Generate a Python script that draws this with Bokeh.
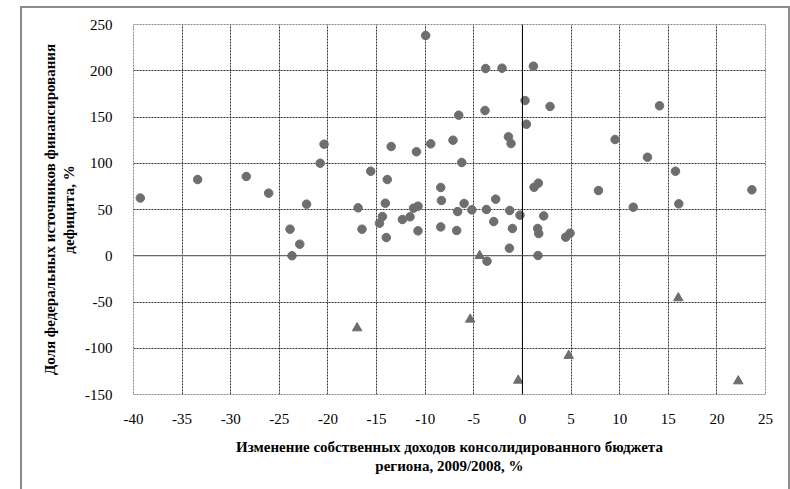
from bokeh.plotting import figure
from bokeh.models import FixedTicker, Span
from bokeh.embed import file_html
from bokeh.resources import INLINE

# circles: regions
cx = [-39.3, -33.4, -28.4, -26.1, -22.2, -20.8, -20.4, -23.9, -22.9, -23.7,
      -16.9, -16.5, -15.6, -14.7, -14.4, -14.1, -13.9, -14.0, -13.5, -12.35,
      -11.56, -11.2, -10.74, -10.74, -10.9, -9.43, -7.14, -6.24, -8.4, -8.33,
      -8.4, -6.0, -6.66, -6.76, -5.2, -3.7, -2.75, -2.95, -1.3, -1.03,
      -1.34, -0.25, -1.17, -1.44, -3.64, 1.2, 1.64, 1.57, 1.68, 1.6,
      2.19, 4.45, 4.9, 7.82, 11.4, 12.86, 15.74, 16.08, 23.6, 9.53,
      1.13, 2.84, 14.1, -9.95, -3.78, -2.1, 0.27, -3.85, -6.55, 0.41]
cy = [62.4, 82.4, 85.7, 67.7, 55.8, 100.0, 120.6, 28.7, 12.5, 0.0,
      51.8, 28.7, 91.4, 35.2, 42.4, 56.8, 82.4, 19.7, 118.1, 39.2,
      42.1, 51.4, 53.6, 26.9, 112.4, 121.0, 124.9, 100.8, 73.8, 59.7,
      31.2, 56.5, 47.8, 27.3, 49.6, 50.0, 61.2, 37.0, 48.9, 29.5,
      8.2, 43.9, 121.3, 128.6, -5.9, 74.0, 78.5, 29.5, 24.0, 0.3,
      43.1, 20.1, 24.4, 70.5, 52.5, 106.5, 91.4, 56.1, 71.3, 125.7,
      205.0, 161.4, 162.1, 238.1, 202.4, 202.8, 167.8, 157.0, 152.0, 142.2]

# triangles
tx = [-4.4, -17.0, -5.37, -0.43, 4.76, 16.03, 22.2]
ty = [0.0, -78.2, -68.8, -134.8, -108.0, -45.7, -135.5]

x_ticks = [-40, -35, -30, -25, -20, -15, -10, -5, 0, 5, 10, 15, 20, 25]
y_ticks = [-150, -100, -50, 0, 50, 100, 150, 200, 250]

x_title = "Изменение собственных доходов консолидированного бюджета\nрегиона, 2009/2008, %"
y_title = "Доля федеральных источников финансирования\nдефицита, %"

SERIF = "Liberation Serif"
MARK = "#6e6e6e"
BORDER = "#8c8c8c"

p = figure(width=790, height=489, output_backend="svg", toolbar_location=None,
           x_range=(-40, 25), y_range=(-150, 250),
           min_border_left=133, min_border_right=25, min_border_top=24,
           min_border_bottom=95)

p.background_fill_color = "white"
p.border_fill_color = None
p.styles = {
    "background": (
        f"linear-gradient({BORDER},{BORDER}) 20px 6px / 2px 490px no-repeat, "
        f"linear-gradient({BORDER},{BORDER}) 20px 6px / 770px 2px no-repeat, "
        f"linear-gradient({BORDER},{BORDER}) 788px 6px / 2px 490px no-repeat, "
        "white"
    )
}
p.outline_line_color = "#888888"
p.outline_line_dash = "2 1"
p.outline_line_width = 1

for ax in (p.xaxis[0], p.yaxis[0]):
    ax.axis_line_color = None
    ax.major_tick_line_color = None
    ax.minor_tick_line_color = None
    ax.major_label_text_font = SERIF
    ax.major_label_text_font_size = "15px"
    ax.major_label_text_color = "black"
    ax.axis_label_text_font = SERIF
    ax.axis_label_text_font_size = "15px"
    ax.axis_label_text_font_style = "bold"
    ax.axis_label_text_color = "black"

p.xaxis.ticker = FixedTicker(ticks=x_ticks)
p.yaxis.ticker = FixedTicker(ticks=y_ticks)
p.xaxis.major_label_overrides = {t: str(t) for t in x_ticks}
p.yaxis.major_label_overrides = {t: str(t) for t in y_ticks}
p.xaxis.major_label_standoff = 13
p.yaxis.major_label_standoff = 15
p.xaxis.axis_label = x_title
p.yaxis.axis_label = y_title
p.xaxis.axis_label_standoff = 12
p.yaxis.axis_label_standoff = 5

p.xgrid.ticker = FixedTicker(ticks=x_ticks)
p.ygrid.ticker = FixedTicker(ticks=y_ticks)
for g in (p.xgrid[0], p.ygrid[0]):
    g.grid_line_color = "#333333"
    g.grid_line_dash = "2 1"
    g.grid_line_width = 1

p.add_layout(Span(location=0, dimension="height", line_color="black", line_width=1))
p.add_layout(Span(location=0, dimension="width", line_color="#666666", line_width=1))

p.scatter(cx, cy, marker="circle", size=8.5, fill_color=MARK, line_color=MARK)
p.scatter(tx, ty, marker="triangle", size=9.5, fill_color=MARK, line_color=MARK)

open("out.html", "w").write(file_html(p, INLINE))
